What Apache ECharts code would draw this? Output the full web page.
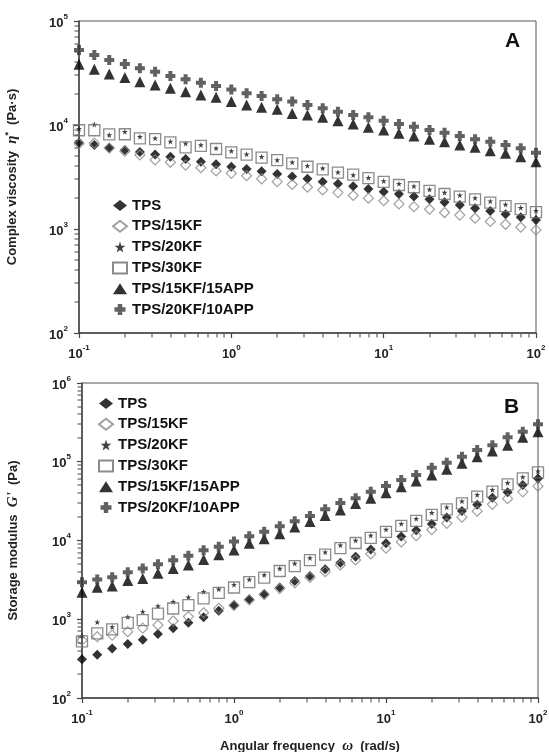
<!DOCTYPE html>
<html>
<head>
<meta charset="utf-8">
<script src="https://cdn.jsdelivr.net/npm/echarts@6/dist/echarts.min.js"></script>
<style>
  html, body { margin: 0; padding: 0; background: #fff; }
  #chart { width: 549px; height: 752px; }
</style>
</head>
<body>
<div id="chart"></div>
<script>
// angular frequency (rad/s), 10 points per decade
var freq = [0.1, 0.126, 0.158, 0.2, 0.251, 0.316, 0.398, 0.501, 0.631, 0.794,
            1, 1.26, 1.58, 2, 2.51, 3.16, 3.98, 5.01, 6.31, 7.94,
            10, 12.6, 15.8, 20, 25.1, 31.6, 39.8, 50.1, 63.1, 79.4, 100];

var names = ['TPS', 'TPS/15KF', 'TPS/20KF', 'TPS/30KF', 'TPS/15KF/15APP', 'TPS/20KF/10APP'];

// panel A : complex viscosity (Pa·s)
var etaTPS = [6800, 6420, 6050, 5750, 5500, 5200, 4950, 4700, 4440, 4200, 3970, 3770, 3600, 3380, 3200, 3040, 2850, 2720, 2580, 2430, 2280, 2170, 2050, 1930, 1810, 1700, 1580, 1490, 1390, 1300, 1220];
var eta15KF = [6600, 6700, 6000, 5600, 5150, 4620, 4380, 4120, 3880, 3620, 3430, 3250, 3030, 2850, 2680, 2520, 2370, 2240, 2100, 1980, 1870, 1740, 1640, 1550, 1440, 1360, 1270, 1180, 1110, 1040, 980];
var eta20KF = [9200, 10100, 8000, 8600, 7700, 7450, 6950, 6650, 6420, 5970, 5620, 5230, 4960, 4600, 4380, 4060, 3840, 3510, 3300, 3110, 2900, 2720, 2580, 2400, 2240, 2110, 1990, 1850, 1720, 1600, 1500];
var eta30KF = [8900, 8900, 8130, 8150, 7450, 7300, 6810, 6100, 6300, 5880, 5460, 5200, 4850, 4600, 4280, 3970, 3750, 3480, 3330, 3090, 2840, 2650, 2520, 2330, 2170, 2050, 1930, 1790, 1660, 1550, 1450];
var eta15APP = [38300, 34300, 30900, 28700, 26100, 24300, 22500, 20900, 19400, 18500, 16800, 15600, 14800, 14200, 12900, 12500, 11900, 11000, 10200, 9500, 8950, 8320, 7830, 7280, 6910, 6420, 6110, 5660, 5350, 4960, 4440];
var eta10APP = [52500, 47100, 42200, 38600, 35100, 32600, 29600, 27500, 25500, 23700, 22000, 20200, 19000, 17700, 16800, 15600, 14500, 13400, 12500, 11900, 11000, 10200, 9630, 8950, 8430, 7830, 7280, 6910, 6420, 5970, 5420];

// panel B : storage modulus G' (Pa)
var gTPS = [310, 355, 425, 485, 550, 650, 770, 900, 1060, 1280, 1510, 1790, 2090, 2530, 3050, 3550, 4300, 5200, 6200, 7700, 9200, 11200, 13500, 16200, 19600, 23700, 28500, 34800, 41000, 50700, 61500];
var g15KF = [540, 600, 630, 695, 770, 845, 950, 1080, 1210, 1380, 1500, 1760, 2050, 2450, 2900, 3400, 4020, 4890, 5650, 6740, 8000, 9600, 11500, 13700, 16500, 19800, 23600, 28800, 34000, 41500, 49000];
var g20KF = [620, 920, 800, 1070, 1250, 1470, 1670, 1900, 2240, 2400, 2750, 3200, 3650, 4400, 5100, 6000, 7100, 8700, 10000, 11600, 13800, 16300, 18900, 22500, 26500, 31500, 38000, 44000, 54000, 64000, 76000];
var g30KF = [525, 660, 745, 900, 975, 1180, 1370, 1510, 1840, 2160, 2530, 2960, 3380, 4100, 4740, 5620, 6600, 8000, 9300, 10800, 12900, 15300, 17700, 21100, 24900, 29600, 36000, 41700, 51700, 61600, 73500];
var g15APP = [2200, 2550, 2650, 3100, 3300, 3850, 4400, 4900, 5750, 6600, 7600, 9200, 10500, 12200, 14800, 17400, 20800, 24400, 29600, 34400, 40500, 48200, 57000, 67700, 80200, 95600, 116000, 137000, 162000, 205000, 240000];
var g10APP = [2950, 3200, 3420, 3950, 4400, 5000, 5600, 6400, 7500, 8300, 9700, 11300, 12900, 15200, 17500, 20500, 25000, 30000, 34400, 41700, 49100, 58600, 67700, 84000, 97000, 116000, 141000, 162000, 205000, 240000, 300000];

// minor tick positions (2..9 of each decade)
var xMinor = [0.2, 0.3, 0.4, 0.5, 0.6, 0.7, 0.8, 0.9, 2, 3, 4, 5, 6, 7, 8, 9, 20, 30, 40, 50, 60, 70, 80, 90];
var yMinorA = [200, 300, 400, 500, 600, 700, 800, 900, 2000, 3000, 4000, 5000, 6000, 7000, 8000, 9000,
               20000, 30000, 40000, 50000, 60000, 70000, 80000, 90000];
var yMinorB = yMinorA.concat([200000, 300000, 400000, 500000, 600000, 700000, 800000, 900000]);

var FONT = '"Liberation Sans", Arial, sans-serif';
var STAR = 'path://M5,0 L6.2,3.8 L10,3.8 L6.9,6.1 L8.1,10 L5,7.6 L1.9,10 L3.1,6.1 L0,3.8 L3.8,3.8 Z';
var PLUS = 'path://M3,0 H7 V3 H10 V7 H7 V10 H3 V7 H0 V3 H3 Z';

var styles = [
    { symbol: 'diamond', symbolSize: 10, itemStyle: { color: '#000' } },
    { symbol: 'diamond', symbolSize: 10, itemStyle: { color: 'rgba(255,255,255,0)', borderColor: '#8a8a8a', borderWidth: 1.2 } },
    { symbol: STAR, symbolSize: 6, itemStyle: { color: '#111' } },
    { symbol: 'rect', symbolSize: 11, itemStyle: { color: 'rgba(255,255,255,0)', borderColor: '#6e6e6e', borderWidth: 1.3 } },
    { symbol: 'triangle', symbolSize: 11, itemStyle: { color: '#000' } },
    { symbol: PLUS, symbolSize: 10, itemStyle: { color: '#3a3a3a' } }
];

function pairs(ys) {
    return freq.map(function (x, i) { return [x, ys[i]]; });
}

function powLabel(v) {
    var e = Math.round(Math.log10(v));
    return '{b|10}{s|' + e + '}';
}

var labelRich = {
    b: { fontFamily: FONT, fontSize: 13, fontWeight: 'bold', color: '#222', lineHeight: 17, verticalAlign: 'bottom' },
    s: { fontFamily: FONT, fontSize: 8, fontWeight: 'bold', color: '#222', lineHeight: 9, verticalAlign: 'top' }
};

function logAxis(gridIndex, min, max, extra) {
    var ax = {
        type: 'log', logBase: 10, gridIndex: gridIndex, min: min, max: max,
        axisLine: { show: true, lineStyle: { color: '#444', width: 1.5 } },
        axisTick: { show: true, length: 5, lineStyle: { color: '#444', width: 1.2 } },
        axisLabel: { formatter: powLabel, rich: labelRich, margin: 11 },
        splitLine: { show: false }
    };
    for (var k in extra) ax[k] = extra[k];
    return ax;
}

var nameStyle = {
    fontFamily: FONT, fontSize: 13, fontWeight: 'bold', color: '#222',
    rich: {
        t: { fontFamily: FONT, fontSize: 13, fontWeight: 'bold', color: '#222' },
        i: { fontFamily: 'serif', fontSize: 15, fontStyle: 'italic', fontWeight: 'bold', color: '#222' },
        u: { fontFamily: FONT, fontSize: 9, fontWeight: 'bold', color: '#222', padding: [0, 0, 8, 0] }
    }
};

var series = [];
var dataA = [etaTPS, eta15KF, eta20KF, eta30KF, eta15APP, eta10APP];
var dataB = [gTPS, g15KF, g20KF, g30KF, g15APP, g10APP];
names.forEach(function (n, i) {
    series.push({ name: n, type: 'scatter', xAxisIndex: 0, yAxisIndex: 0, data: pairs(dataA[i]),
        symbol: styles[i].symbol, symbolSize: styles[i].symbolSize, itemStyle: styles[i].itemStyle, z: 2 + i });
    series.push({ name: n, type: 'scatter', xAxisIndex: 1, yAxisIndex: 1, data: pairs(dataB[i]),
        symbol: styles[i].symbol, symbolSize: styles[i].symbolSize, itemStyle: styles[i].itemStyle, z: 2 + i });
});

// minor ticks as markLines on a helper series: short segments at the 2..9 positions,
// placed by the log axes themselves (coords given in data values)
function minorTickSeries(xi, yi, xmin, ymin, ymax, yMinor) {
    var lines = [];
    xMinor.forEach(function (v) {
        lines.push([{ coord: [v, ymin] }, { coord: [v, ymin], y: 0 }]);
    });
    return { type: 'scatter', xAxisIndex: xi, yAxisIndex: yi, data: [], silent: true };
}

var legendBase = {
    orient: 'vertical', data: names, itemWidth: 14, itemHeight: 11, itemGap: 5.8,
    selectedMode: false,
    textStyle: { fontFamily: FONT, fontSize: 15, fontWeight: 'bold', color: '#111', lineHeight: 11 }
};

var panelLabels = [
    { type: 'text', left: 505, top: 31, style: { text: 'A', font: 'bold 21px ' + FONT, fill: '#111' } },
    { type: 'text', left: 504, top: 397, style: { text: 'B', font: 'bold 21px ' + FONT, fill: '#111' } }
];

var option = {
    animation: false,
    backgroundColor: '#fff',
    grid: [
        { left: 79, top: 21, right: 13, height: 312, show: true, borderColor: '#555', borderWidth: 1, outerBoundsMode: 'none', containLabel: false },
        { left: 82, top: 383, right: 11, height: 315, show: true, borderColor: '#555', borderWidth: 1, outerBoundsMode: 'none', containLabel: false }
    ],
    legend: [
        Object.assign({}, legendBase, { left: 107, top: 193 }),
        Object.assign({}, legendBase, { left: 93, top: 391 })
    ],
    xAxis: [
        logAxis(0, 0.1, 100, {}),
        logAxis(1, 0.1, 100, {
            name: '{t|Angular frequency  }{i|ω}{t|  (rad/s)}',
            nameLocation: 'middle', nameGap: 41, nameTextStyle: nameStyle
        })
    ],
    yAxis: [
        logAxis(0, 100, 100000, {
            name: '{t|Complex viscosity  }{i|η}{u|*}{t|  (Pa·s)}',
            nameLocation: 'middle', nameGap: 58, nameTextStyle: nameStyle
        }),
        logAxis(1, 100, 1000000, {
            name: '{t|Storage modulus  }{i|G\'}{t|  (Pa)}',
            nameLocation: 'middle', nameGap: 61, nameTextStyle: nameStyle
        })
    ],
    graphic: panelLabels,
    series: series
};

var chart = echarts.init(document.getElementById('chart'));
chart.setOption(option);

// minor ticks: positions come from the axes' own log scales
function minorTicks(gridIndex, yMinor) {
    var out = [];
    xMinor.forEach(function (v) {
        var p = chart.convertToPixel({ xAxisIndex: gridIndex, yAxisIndex: gridIndex }, [v, 100]);
        out.push({ type: 'rect', silent: true, z: 100,
            shape: { x: Math.round(p[0]) - 0.5, y: Math.round(p[1]) + 0.5, width: 1, height: 4 },
            style: { fill: '#444' } });
    });
    yMinor.forEach(function (v) {
        var p = chart.convertToPixel({ xAxisIndex: gridIndex, yAxisIndex: gridIndex }, [0.1, v]);
        out.push({ type: 'rect', silent: true, z: 100,
            shape: { x: Math.round(p[0]) - 4.5, y: Math.round(p[1]) - 0.5, width: 4, height: 1 },
            style: { fill: '#444' } });
    });
    return out;
}

var ticks = minorTicks(0, yMinorA).concat(minorTicks(1, yMinorB));
chart.setOption({ graphic: panelLabels.concat(ticks) });
</script>
</body>
</html>
